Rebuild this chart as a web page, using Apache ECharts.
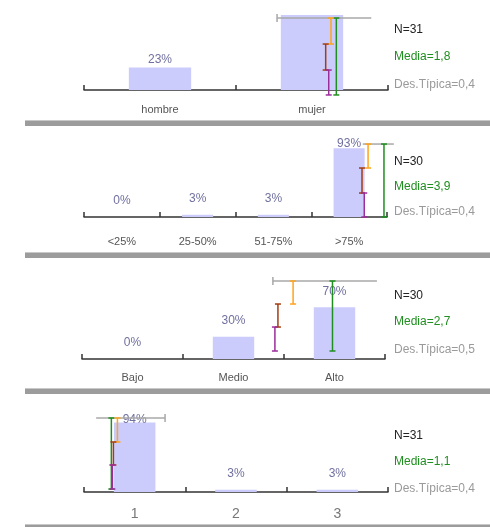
<!DOCTYPE html>
<html>
<head>
<meta charset="utf-8">
<script src="https://cdn.jsdelivr.net/npm/echarts@6/dist/echarts.min.js"></script>
<style>
html,body{margin:0;padding:0;background:#fff;}
#chart{width:490px;height:527px;}
</style>
</head>
<body>
<div id="chart"></div>
<script>
// ---------------- data ----------------
const cats1 = ['hombre', 'mujer'];
const pct1 = [23, 77];
const cats2 = ['<25%', '25-50%', '51-75%', '>75%'];
const pct2 = [0, 3, 3, 93];
const cats3 = ['Bajo', 'Medio', 'Alto'];
const pct3 = [0, 30, 70];
const cats4 = ['1', '2', '3'];
const pct4 = [94, 3, 3];

const nValues = [31, 30, 30, 31];
const meanValues = [1.8, 3.9, 2.7, 1.1];
const sdValues = [0.4, 0.4, 0.5, 0.4];

// marker positions on a scale where category k is centred at k
const greyRange = [[1.77, 2.39], [4.18, 4.59], [2.39, 3.42], [0.62, 1.30]];
const greenMark = [2.16, 4.46, 2.98, 0.77];
const orangeMark = [2.125, 4.25, 2.59, 0.83];
const brownMark = [2.09, 4.17, 2.44, 0.79];
const purpleMark = [2.11, 4.20, 2.41, 0.78];
// vertical levels (same units as bar values): top, tier1, tier2, bottom
const markLevels = [[73.9, 47.2, 20.5, -5.1], [98.6, 66.2, 32.4, 0], [105.4, 74.3, 43.2, 10.8], [100, 67.6, 36.5, 4]];
const greyCapSide = [0, -1, 0, 1]; // 0 = start, 1 = end, -1 = none

// ---------------- layout ----------------
const FONT = '"Liberation Sans", Arial, sans-serif';
const panels = [
  {cats: cats1, pct: pct1, left: 84, width: 304, axisY: 90, yMax: 90, margin: 14, fs: 11, lc: '#555', textY: [31, 58, 86]},
  {cats: cats2, pct: pct2, left: 84, width: 303, axisY: 217, yMax: 110, margin: 19, fs: 11, lc: '#555', textY: [163, 188, 213]},
  {cats: cats3, pct: pct3, left: 82, width: 303, axisY: 359, yMax: 110, margin: 13, fs: 11, lc: '#555', textY: [297, 323, 351]},
  {cats: cats4, pct: pct4, left: 84, width: 304, axisY: 492, yMax: 110, margin: 15, fs: 14, lc: '#777', textY: [437, 463, 490]}
];
const pxPerUnit = [0.974, 0.74, 0.74, 0.74];
// per-item label tweaks
const labelTweaks = [
  [{distance: 2}, {show: false}],
  [null, null, null, {distance: -2}],
  [null, null, null],
  [{distance: -3.5}, null, null]
];

const colors = {grey: '#a8a8a8', green: '#1f8f1f', orange: '#ffa41c', brown: '#a33c10', purple: '#9b2d9b'};

const grids = [], xAxes = [], yAxes = [], series = [], graphics = [];

panels.forEach((p, i) => {
  const h = p.yMax * pxPerUnit[i];
  grids.push({left: p.left, width: p.width, top: p.axisY - h, height: h});
  xAxes.push({
    type: 'category', gridIndex: i, data: p.cats,
    axisLine: {lineStyle: {color: '#333', width: 1.5}},
    axisTick: {show: true, inside: true, length: 5, lineStyle: {color: '#333', width: 1.5}},
    axisLabel: {margin: p.margin, fontSize: p.fs, color: p.lc, fontFamily: FONT}
  });
  xAxes.push({type: 'value', gridIndex: i, min: 0.5, max: p.cats.length + 0.5, show: false});
  yAxes.push({type: 'value', gridIndex: i, min: 0, max: p.yMax, show: false, splitLine: {show: false}});

  series.push({
    type: 'bar', xAxisIndex: 2 * i, yAxisIndex: i, barWidth: '41%', z: 2,
    itemStyle: {color: '#ccccfc'},
    label: {show: true, position: 'top', distance: 10, formatter: '{c}%', fontSize: 12, color: '#7070a0', fontFamily: FONT},
    data: p.pct.map((v, k) => {
      const t = labelTweaks[i][k];
      return t ? {value: v, label: t} : v;
    })
  });

  const lv = markLevels[i];
  const segs = [];
  segs.push({value: [1, greyRange[i][0], greyRange[i][1], lv[0], greyCapSide[i]], itemStyle: {color: colors.grey}});
  segs.push({value: [0, greenMark[i], lv[0], lv[3], 0], itemStyle: {color: colors.green}});
  segs.push({value: [0, orangeMark[i], lv[0], lv[1], 0], itemStyle: {color: colors.orange}});
  segs.push({value: [0, brownMark[i], lv[1], lv[2], 0], itemStyle: {color: colors.brown}});
  segs.push({value: [0, purpleMark[i], lv[2], lv[3], 0], itemStyle: {color: colors.purple}});

  series.push({
    type: 'custom', xAxisIndex: 2 * i + 1, yAxisIndex: i, z: 3, clip: false,
    silent: true,
    data: segs,
    renderItem: function (params, api) {
      const kind = api.value(0);
      const c = api.visual('color');
      const st = {stroke: c, lineWidth: 1.5};
      if (kind === 0) {
        const a = api.coord([api.value(1), api.value(2)]);
        const b = api.coord([api.value(1), api.value(3)]);
        return {type: 'group', children: [
          {type: 'line', shape: {x1: a[0], y1: a[1], x2: b[0], y2: b[1]}, style: st},
          {type: 'line', shape: {x1: a[0] - 3, y1: a[1], x2: a[0] + 3, y2: a[1]}, style: st},
          {type: 'line', shape: {x1: b[0] - 3, y1: b[1], x2: b[0] + 3, y2: b[1]}, style: st}
        ]};
      } else {
        const a = api.coord([api.value(1), api.value(3)]);
        const b = api.coord([api.value(2), api.value(3)]);
        const ch = [{type: 'line', shape: {x1: a[0], y1: a[1], x2: b[0], y2: b[1]}, style: st}];
        const side = api.value(4);
        if (side === 0) ch.push({type: 'line', shape: {x1: a[0], y1: a[1] - 4, x2: a[0], y2: a[1] + 4}, style: st});
        if (side === 1) ch.push({type: 'line', shape: {x1: b[0], y1: b[1] - 4, x2: b[0], y2: b[1] + 4}, style: st});
        return {type: 'group', children: ch};
      }
    }
  });

  const fmt = v => String(v.toFixed(1)).replace('.', ',');
  const texts = [
    {t: 'N=' + nValues[i], c: '#222'},
    {t: 'Media=' + fmt(meanValues[i]), c: '#1f8f1f'},
    {t: 'Des.Típica=' + fmt(sdValues[i]), c: '#9a9a9a'}
  ];
  texts.forEach((tx, k) => {
    graphics.push({
      type: 'text', left: 394, top: p.textY[k] - 7, z: 10,
      style: {text: tx.t, fill: tx.c, font: '12px ' + FONT}
    });
  });
});

// separators
[120, 252, 388, 524].forEach(y => {
  graphics.push({type: 'rect', shape: {x: 25, y: y, width: 465, height: 6}, style: {fill: '#9c9c9c'}, z: 1});
  graphics.push({type: 'rect', shape: {x: 25, y: y, width: 465, height: 1}, style: {fill: '#c8c8c8'}, z: 1});
});

const chart = echarts.init(document.getElementById('chart'), null, {renderer: 'canvas'});
chart.setOption({
  animation: false,
  backgroundColor: '#fff',
  grid: grids,
  xAxis: xAxes,
  yAxis: yAxes,
  series: series,
  graphic: graphics
});
</script>
</body>
</html>
